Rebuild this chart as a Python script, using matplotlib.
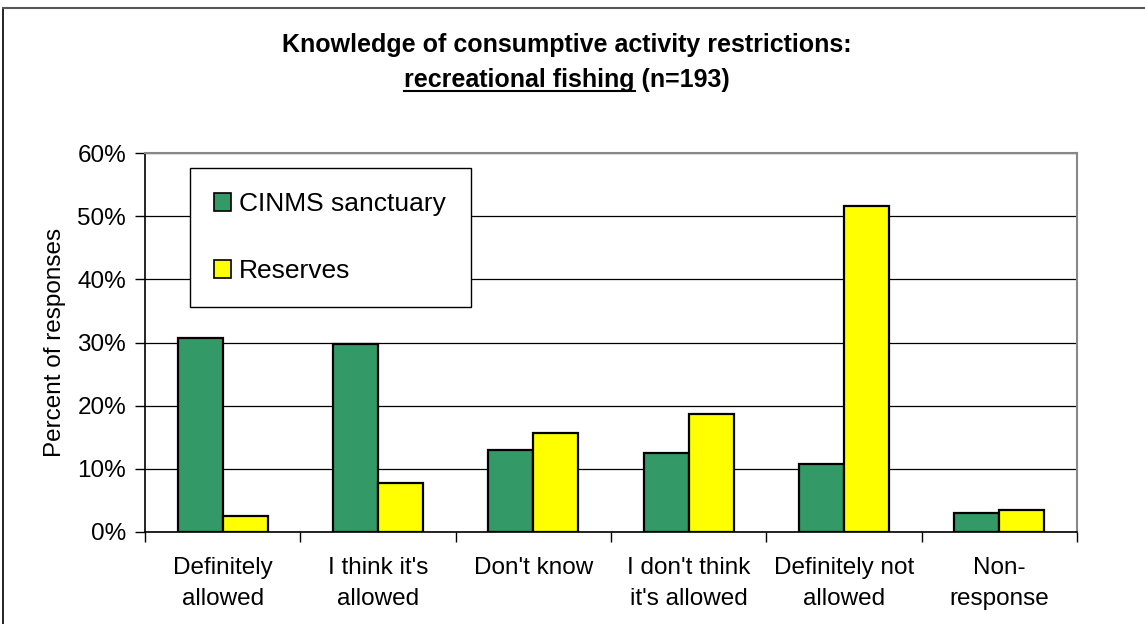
import matplotlib
matplotlib.use("Agg")
import matplotlib.pyplot as plt
from matplotlib.patches import Patch
from matplotlib.lines import Line2D
import numpy as np

categories = ["Definitely\nallowed", "I think it's\nallowed", "Don't know",
              "I don't think\nit's allowed", "Definitely not\nallowed", "Non-\nresponse"]
cinms = [30.7, 29.7, 13.0, 12.5, 10.8, 3.0]
reserves = [2.6, 7.8, 15.6, 18.7, 51.6, 3.5]
yticks = [0, 10, 20, 30, 40, 50, 60]

plt.rcParams['font.family'] = ['Liberation Sans', 'DejaVu Sans']

W, H = 1145, 624
fig = plt.figure(figsize=(W / 100, H / 100), dpi=100)
fig.patch.set_facecolor("white")

# outer chart frame (left and top edges)
fig.add_artist(Line2D([3 / W, 3 / W], [0, 1 - 8 / H], color="black", lw=1.2))
fig.add_artist(Line2D([3 / W, 1], [1 - 8 / H, 1 - 8 / H], color="#555555", lw=1.5))

ax = fig.add_axes([145 / W, 1 - 532 / H, 932 / W, 379 / H])
x = np.arange(len(categories))
bw = 0.29
green = "#339966"
yellow = "#FFFF00"
ax.bar(x - bw / 2, cinms, bw, color=green, edgecolor="black", linewidth=1.6, zorder=3,
       label="CINMS sanctuary")
ax.bar(x + bw / 2, reserves, bw, color=yellow, edgecolor="black", linewidth=1.6, zorder=3,
       label="Reserves")

FS = 17.5
ax.set_xlim(-0.5, len(categories) - 0.5)
ax.set_ylim(0, 60)
ax.set_yticks(yticks)
ax.set_yticklabels([f"{v}%" for v in yticks], fontsize=FS)
ax.yaxis.grid(True, color="black", linewidth=0.9, zorder=0)
ax.set_axisbelow(True)

# category labels centred under groups, tick marks on group boundaries
ax.set_xticks(np.arange(-0.5, len(categories) + 0.5, 1.0))
ax.set_xticklabels([])
ax.set_xticks(x, minor=True)
ax.set_xticklabels(categories, minor=True, fontsize=FS, linespacing=1.55)
ax.tick_params(axis="x", which="minor", length=0, pad=18)
ax.tick_params(axis="x", which="major", length=7, width=1, direction="out", color="black")
ax.tick_params(axis="y", length=7, width=1, direction="out", pad=6.5)

for s in ["left", "bottom"]:
    ax.spines[s].set_color("black")
    ax.spines[s].set_linewidth(1.2)
for s in ["top", "right"]:
    ax.spines[s].set_color("#888888")
    ax.spines[s].set_linewidth(1.5)

ax.set_ylabel("Percent of responses", fontsize=FS, labelpad=8)

handles = [Patch(facecolor=green, edgecolor="black", linewidth=1.2),
           Patch(facecolor=yellow, edgecolor="black", linewidth=1.2)]
leg = ax.legend(handles, ["CINMS sanctuary", "Reserves"], loc="upper left",
                bbox_to_anchor=(45 / 932, 1 - 15 / 379), fontsize=19,
                frameon=True, fancybox=False, edgecolor="black", framealpha=1,
                borderpad=0.92, labelspacing=1.62, handlelength=0.65, handleheight=0.65,
                handletextpad=0.3, borderaxespad=0)
leg.get_frame().set_linewidth(1.0)
leg.set_zorder(5)

# title with underlined subject
cx = 567 / W
TFS = 18
fig.text(cx, 1 - 45 / H, "Knowledge of consumptive activity restrictions:",
         ha="center", va="center", fontsize=TFS, fontweight="bold")
line2 = fig.text(cx, 1 - 80 / H, "recreational fishing (n=193)",
                 ha="center", va="center", fontsize=TFS, fontweight="bold")
fig.canvas.draw()
r = fig.canvas.get_renderer()
bb = line2.get_window_extent(r)
probe = fig.text(0, 0, "recreational fishing", fontsize=TFS, fontweight="bold")
pw = probe.get_window_extent(r).width
probe.remove()
uy = (bb.y0 + 1) / H
fig.add_artist(Line2D([bb.x0 / W, (bb.x0 + pw) / W], [uy, uy], color="black", lw=1.5))

fig.savefig("out.png", dpi=100)
